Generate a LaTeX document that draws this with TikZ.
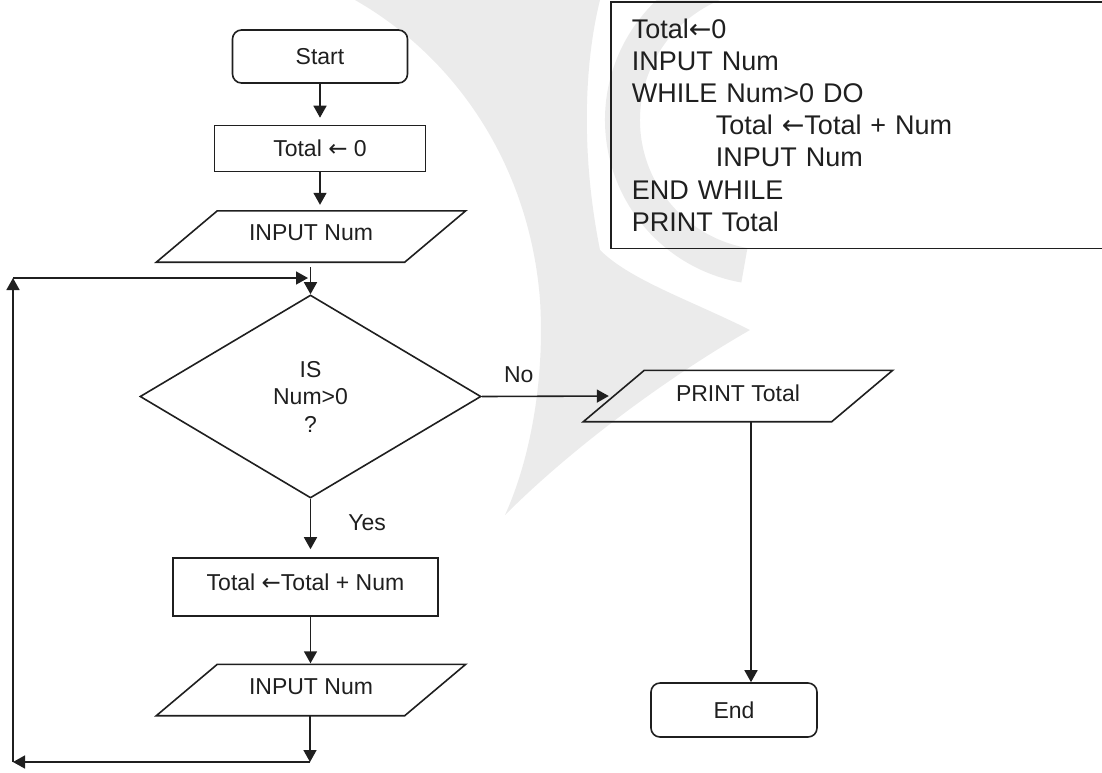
\documentclass[tikz,border=0pt]{standalone}
\usepackage{fontspec}
\setmainfont{Liberation Sans}
\newfontfamily\arrowfont{DejaVu Sans}
\usetikzlibrary{arrows.meta,shapes.geometric}

% assignment arrow glyph
\newcommand\assign{{\arrowfont ←}}

\tikzset{
  line/.style={draw=black!88, line width=1.6pt},
  arr/.style={line, -{Triangle[length=12pt,width=13pt]}},
  chart/.style={font=\fontsize{23}{27.5}\selectfont, text=black!88, inner sep=0pt},
  terminal/.style={chart, line, rectangle, rounded corners=9pt},
  process/.style={chart, line, rectangle},
  io/.style={chart, minimum width=248pt, minimum height=51pt, text depth=7pt},
  decision/.style={chart, line, diamond, minimum width=341pt, minimum height=203pt, align=center},
  lbl/.style={font=\fontsize{23}{27.5}\selectfont, text=black!88, inner sep=0pt},
  codebox/.style={line, align=left, text width=470pt, inner xsep=21pt, inner ysep=0pt,
    minimum height=246.5pt, text=black!88, font=\fontsize{27}{32.2}\selectfont},
  wmark/.style={fill=black!8, draw=none}
}

% slanted input/output frame around a plain node
\newcommand\ioframe[1]{%
  \draw[line, line join=miter]
    ([xshift=30.5pt]#1.north west) -- ([xshift=30.5pt]#1.north east) --
    ([xshift=-30.5pt]#1.south east) -- ([xshift=-30.5pt]#1.south west) -- cycle;}

\begin{document}
\begin{tikzpicture}[x=1pt, y=-1pt]
\useasboundingbox (0,0) rectangle (1102,772);

% faint background emblem: swoosh and ring
\fill[wmark] (355,0) .. controls (460,60) and (530,170) .. (540,300)
  .. controls (545,380) and (530,460) .. (505,515)
  .. controls (580,440) and (680,370) .. (750,330)
  .. controls (690,300) and (630,280) .. (600,250)
  .. controls (580,150) and (585,60) .. (600,0) -- cycle;
\fill[wmark] (770,120) ++(100:130) arc[start angle=100, end angle=260, radius=130]
  -- ++(260:35) arc[start angle=260, end angle=100, radius=165] -- cycle;

% pseudocode
\node[codebox, anchor=north west] (code) at (610,1)
  {Total\assign0\\INPUT Num\\WHILE Num>0 DO\\\hspace*{84pt}Total \assign Total + Num\\\hspace*{84pt}INPUT Num\\END WHILE\\PRINT Total};

% flowchart nodes
\node[terminal, minimum width=175pt, minimum height=53pt] (start) at (320,56.5) {Start};
\node[process, minimum width=211pt, minimum height=46pt] (init) at (320,148.5) {Total \assign\ 0};
\node[io] (in1) at (311,236.5) {INPUT Num\hspace{24pt}};
\ioframe{in1}
\node[decision] (dec) at (310.5,396.5) {IS\\Num>0\\?};
\node[process, minimum width=265pt, minimum height=58pt, text depth=10pt] (add) at (305.5,587) {Total \assign Total + Num\hspace{18pt}};
\node[io] (in2) at (311,690) {INPUT Num\hspace{24pt}};
\ioframe{in2}
\node[io, text depth=6pt] (pr) at (738,396) {PRINT Total\hspace{22pt}};
\ioframe{pr}
\node[terminal, minimum width=166pt, minimum height=54pt] (stop) at (734,710) {End};

% loop corners
\coordinate (lb) at (310,762);
\coordinate (ll) at (13,762);
\coordinate (lt) at (13,278);
\coordinate (lr) at (310,278);

% connectors
\draw[arr, shorten >=7pt] (start.south) -- (start.south |- init.north);
\draw[arr, shorten >=6pt] (init.south) -- (init.south |- in1.north);
\draw[arr, shorten <=5pt] (in1.south -| dec.north) -- (dec.north);
\draw[arr, shorten >=5pt] (dec.east) -- node[lbl, pos=0.28, above=13pt] (nolab) {No} (pr.west);
\draw[arr, shorten >=8pt] (dec.south) -- node[lbl, pos=0.41, anchor=west, xshift=37pt] (yeslab) {Yes} (dec.south |- add.north);
\draw[arr, shorten >=1pt] (add.south -| dec.south) -- (dec.south |- in2.north);
\draw[arr] (in2.south -| lb) -- (lb);
\draw[arr] (lb) -- (ll);
\draw[arr] (ll) -- (lt);
\draw[arr, shorten >=2pt] (lt) -- (lr);
\draw[arr] ([xshift=13pt]pr.south) -- ([xshift=17pt]stop.north);
\end{tikzpicture}
\end{document}
